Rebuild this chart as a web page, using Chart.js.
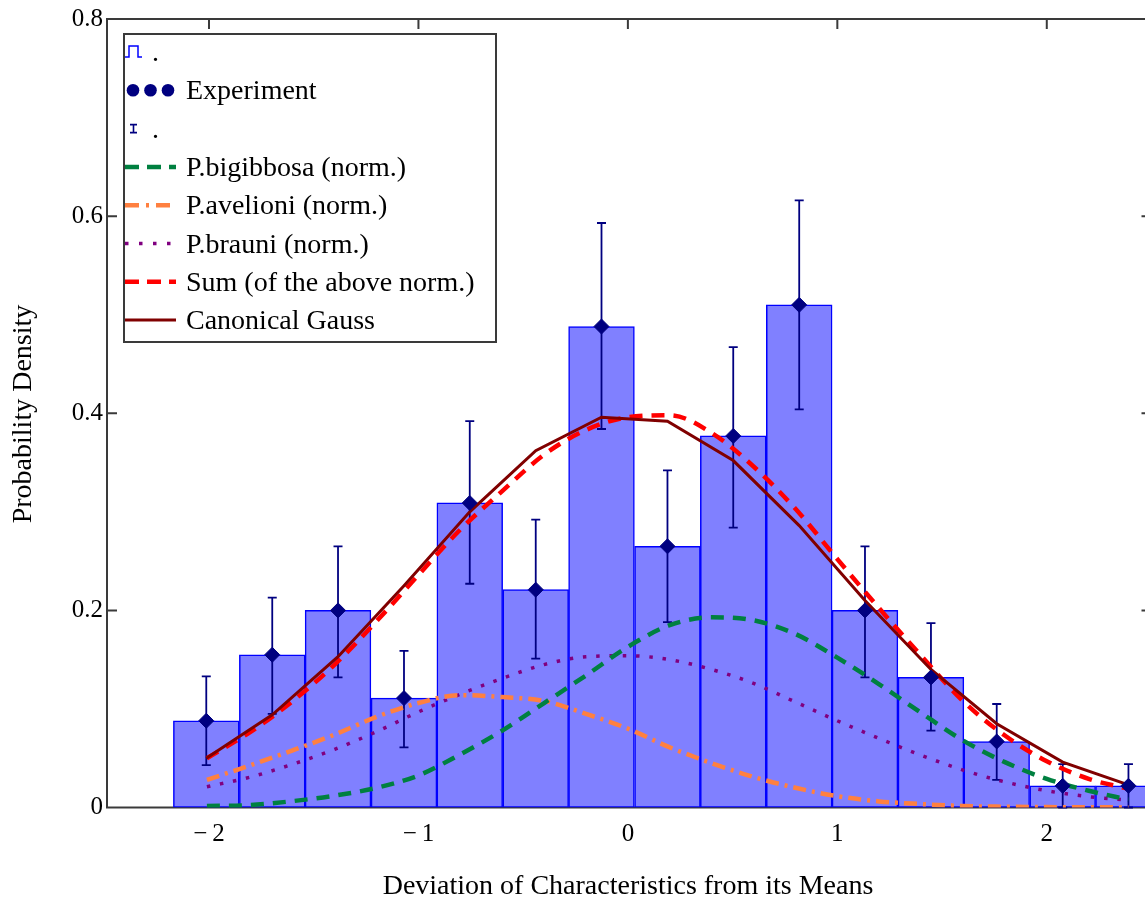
<!DOCTYPE html>
<html>
<head>
<meta charset="utf-8">
<title>Probability Density</title>
<script src="https://cdn.jsdelivr.net/npm/chart.js@4.4.0/dist/chart.umd.min.js"></script>
<style>
  html, body { margin: 0; padding: 0; background: #fff; overflow: hidden; }
  #wrap { width: 1145px; height: 899px; overflow: hidden; }
  canvas { display: block; }
</style>
</head>
<body>
<div id="wrap"><canvas id="densityChart" width="1160" height="899"></canvas></div>
<script>
// histogram bins (centres on the standardised axis)
const binCenters = [-2.013, -1.698, -1.384, -1.069, -0.755, -0.440, -0.126, 0.189, 0.503, 0.818, 1.132, 1.447, 1.761, 2.076, 2.390];
const experiment = [0.088, 0.155, 0.200, 0.111, 0.309, 0.221, 0.488, 0.265, 0.377, 0.510, 0.200, 0.132, 0.067, 0.022, 0.022];
const errLow = [0.043, 0.095, 0.132, 0.061, 0.227, 0.151, 0.384, 0.188, 0.284, 0.404, 0.132, 0.078, 0.028, 0.000, 0.000];
const errHigh = [0.133, 0.213, 0.265, 0.159, 0.392, 0.292, 0.593, 0.342, 0.467, 0.616, 0.265, 0.187, 0.105, 0.044, 0.044];
// canonical gauss, taken at the bin centres
const gaussValues = [0.050, 0.094, 0.153, 0.225, 0.300, 0.362, 0.396, 0.392, 0.352, 0.286, 0.210, 0.140, 0.085, 0.046, 0.023];

// fitted species curves
const curveX = [-2.01, -1.8, -1.6, -1.4, -1.2, -1.0, -0.8, -0.6, -0.4, -0.2, 0.0, 0.2, 0.4, 0.6, 0.8, 1.0, 1.2, 1.4, 1.6, 1.8, 2.0, 2.2, 2.39];
const bigibbosa = [0.0015, 0.0025, 0.0065, 0.012, 0.020, 0.0325, 0.054, 0.078, 0.106, 0.134, 0.163, 0.185, 0.193, 0.190, 0.176, 0.152, 0.125, 0.096, 0.068, 0.046, 0.029, 0.017, 0.008];
const avelioni = [0.028, 0.043, 0.058, 0.074, 0.092, 0.106, 0.114, 0.112, 0.108, 0.095, 0.080, 0.061, 0.045, 0.031, 0.020, 0.0115, 0.0062, 0.0035, 0.0015, 0.0008, 0.0004, 0.0002, 0.0001];
const brauni = [0.021, 0.031, 0.044, 0.059, 0.077, 0.097, 0.115, 0.131, 0.145, 0.153, 0.154, 0.150, 0.140, 0.126, 0.107, 0.088, 0.070, 0.053, 0.038, 0.026, 0.017, 0.011, 0.0075];
const sumNorm = [0.050, 0.077, 0.108, 0.145, 0.189, 0.236, 0.282, 0.321, 0.358, 0.383, 0.396, 0.398, 0.380, 0.346, 0.303, 0.252, 0.202, 0.154, 0.108, 0.073, 0.047, 0.029, 0.019];

const xTicks = [-2, -1, 0, 1, 2];
const yTicks = [0, 0.2, 0.4, 0.6, 0.8];

const serif = "'Liberation Serif', 'Times New Roman', serif";
const frameColor = "#3a3a3a";
const navy = "#000080";

function pts(xs, ys) {
	return xs.map((x, i) => ({ x: x, y: ys[i] }));
}

// small legend samples, one per row
function legendSample(ctx, i, y) {
	ctx.save();
	if (i === 0) {
		ctx.strokeStyle = "#0000FF";
		ctx.lineWidth = 1.5;
		ctx.beginPath();
		ctx.moveTo(125, y + 5);
		ctx.lineTo(129, y + 5);
		ctx.lineTo(129, y - 6);
		ctx.lineTo(138, y - 6);
		ctx.lineTo(138, y + 5);
		ctx.lineTo(142, y + 5);
		ctx.stroke();
	} else if (i === 1) {
		ctx.fillStyle = navy;
		[133, 150.5, 168].forEach((cx) => {
			ctx.beginPath();
			ctx.arc(cx, y, 6.3, 0, Math.PI * 2);
			ctx.fill();
		});
	} else if (i === 2) {
		ctx.strokeStyle = navy;
		ctx.lineWidth = 1.6;
		ctx.beginPath();
		ctx.moveTo(133.5, y - 4);
		ctx.lineTo(133.5, y + 4);
		ctx.moveTo(130, y - 4);
		ctx.lineTo(137, y - 4);
		ctx.moveTo(130, y + 4);
		ctx.lineTo(137, y + 4);
		ctx.stroke();
	} else {
		const ds = legendLines[i - 3];
		ctx.strokeStyle = ds.color;
		ctx.lineWidth = ds.width;
		ctx.setLineDash(ds.dash);
		ctx.beginPath();
		ctx.moveTo(125, y);
		ctx.lineTo(176, y);
		ctx.stroke();
	}
	ctx.restore();
}

const legendLabels = [".", "Experiment", ".", "P.bigibbosa (norm.)", "P.avelioni (norm.)", "P.brauni (norm.)", "Sum (of the above norm.)", "Canonical Gauss"];
const legendLines = [
	{ color: "#008040", width: 4.5, dash: [14, 8] },
	{ color: "#FF8040", width: 4.5, dash: [14, 7, 3, 7] },
	{ color: "#800080", width: 3.5, dash: [3.5, 10.5] },
	{ color: "#FF0000", width: 4.5, dash: [14, 8] },
	{ color: "#800000", width: 3, dash: [] },
];

const decorations = {
	id: "decorations",
	beforeDatasetsDraw(chart) {
		const { ctx, chartArea: a, scales } = chart;
		ctx.save();
		ctx.strokeStyle = frameColor;
		ctx.lineWidth = 2;
		ctx.strokeRect(a.left, a.top, a.right - a.left, a.bottom - a.top);
		ctx.beginPath();
		xTicks.forEach((v) => {
			const px = scales.x.getPixelForValue(v);
			ctx.moveTo(px, a.top);
			ctx.lineTo(px, a.top + 10);
		});
		yTicks.slice(1, -1).forEach((v) => {
			const py = scales.y.getPixelForValue(v);
			ctx.moveTo(a.left, py);
			ctx.lineTo(a.left + 10, py);
			ctx.moveTo(a.right, py);
			ctx.lineTo(a.right - 10, py);
		});
		ctx.stroke();
		ctx.restore();
	},
	afterDatasetDraw(chart, args) {
		if (args.index !== 0) return;
		// error bars, drawn just above the histogram
		const { ctx, scales } = chart;
		ctx.save();
		ctx.strokeStyle = navy;
		ctx.lineWidth = 1.8;
		binCenters.forEach((c, i) => {
			const px = scales.x.getPixelForValue(c);
			const top = scales.y.getPixelForValue(errHigh[i]);
			const bot = scales.y.getPixelForValue(errLow[i]);
			ctx.beginPath();
			ctx.moveTo(px, top);
			ctx.lineTo(px, bot);
			ctx.moveTo(px - 4.5, top);
			ctx.lineTo(px + 4.5, top);
			ctx.moveTo(px - 4.5, bot);
			ctx.lineTo(px + 4.5, bot);
			ctx.stroke();
		});
		ctx.restore();
	},
	afterDraw(chart) {
		const { ctx } = chart;
		ctx.save();
		// legend box
		ctx.fillStyle = "#fff";
		ctx.fillRect(124, 34, 372, 308);
		ctx.strokeStyle = frameColor;
		ctx.lineWidth = 2;
		ctx.strokeRect(124, 34, 372, 308);
		ctx.font = "28px " + serif;
		ctx.fillStyle = "#000";
		ctx.textBaseline = "alphabetic";
		legendLabels.forEach((label, i) => {
			const y = 52 + 38.3 * i;
			legendSample(ctx, i, y);
			if (label === ".") {
				ctx.fillText(label, 152, y + 9);
			} else {
				ctx.fillText(label, 186, y + 9);
			}
		});
		// axis titles
		ctx.textAlign = "center";
		ctx.fillText("Deviation of Characteristics from its Means", 628, 894);
		ctx.translate(31, 414);
		ctx.rotate(-Math.PI / 2);
		ctx.fillText("Probability Density", 0, 0);
		ctx.restore();
	},
};

const barPoints = pts(binCenters, experiment);

new Chart(document.getElementById("densityChart"), {
	type: "bar",
	data: {
		datasets: [
			{
				type: "bar",
				label: ".",
				data: barPoints,
				backgroundColor: "#8080FF",
				borderColor: "#0000FF",
				borderWidth: 1.5,
				borderSkipped: false,
				barPercentage: 1,
				categoryPercentage: 1,
				order: 10,
			},
			{
				type: "line",
				label: "Experiment",
				data: barPoints,
				showLine: false,
				pointStyle: "rectRot",
				pointRadius: 7.5,
				pointBackgroundColor: navy,
				pointBorderColor: navy,
				pointBorderWidth: 1,
				order: 0,
			},
			{
				type: "line",
				label: "P.bigibbosa (norm.)",
				data: pts(curveX, bigibbosa),
				borderColor: "#008040",
				borderWidth: 4.5,
				borderDash: [13, 9],
				pointRadius: 0,
				cubicInterpolationMode: "monotone",
				order: 4,
			},
			{
				type: "line",
				label: "P.avelioni (norm.)",
				data: pts(curveX, avelioni),
				borderColor: "#FF8040",
				borderWidth: 4.5,
				borderDash: [13, 6, 3, 6],
				pointRadius: 0,
				cubicInterpolationMode: "monotone",
				order: 5,
			},
			{
				type: "line",
				label: "P.brauni (norm.)",
				data: pts(curveX, brauni),
				borderColor: "#800080",
				borderWidth: 3.5,
				borderDash: [3.5, 9.8],
				pointRadius: 0,
				cubicInterpolationMode: "monotone",
				order: 6,
			},
			{
				type: "line",
				label: "Sum (of the above norm.)",
				data: pts(curveX, sumNorm),
				borderColor: "#FF0000",
				borderWidth: 4.5,
				borderDash: [13, 9],
				pointRadius: 0,
				cubicInterpolationMode: "monotone",
				order: 3,
			},
			{
				type: "line",
				label: "Canonical Gauss",
				data: pts(binCenters, gaussValues),
				borderColor: "#800000",
				borderWidth: 3,
				pointRadius: 0,
				tension: 0,
				order: 2,
			},
		],
	},
	options: {
		responsive: false,
		animation: false,
		events: [],
		layout: { padding: { top: 16, right: 8, left: 0, bottom: 0 } },
		plugins: {
			legend: { display: false },
			tooltip: { enabled: false },
		},
		scales: {
			x: {
				type: "linear",
				min: -2.487,
				max: 2.5,
				offset: false,
				grid: { display: false, drawTicks: false },
				border: { display: false },
				afterBuildTicks: (scale) => {
					scale.ticks = xTicks.map((v) => ({ value: v }));
				},
				afterFit: (scale) => {
					scale.height = 91.5;
				},
				ticks: {
					padding: 12,
					color: "#000",
					font: { family: serif, size: 25 },
					callback: (v) => (v < 0 ? "\u2212\u2009" + Math.abs(v) : String(v)),
				},
			},
			y: {
				min: 0,
				max: 0.8,
				grid: { display: false, drawTicks: false },
				border: { display: false },
				afterBuildTicks: (scale) => {
					scale.ticks = yTicks.map((v) => ({ value: v }));
				},
				afterFit: (scale) => {
					scale.width = 107;
				},
				ticks: {
					padding: 4,
					color: "#000",
					font: { family: serif, size: 25 },
					callback: (v) => String(v),
				},
			},
		},
	},
	plugins: [decorations],
});
</script>
</body>
</html>
